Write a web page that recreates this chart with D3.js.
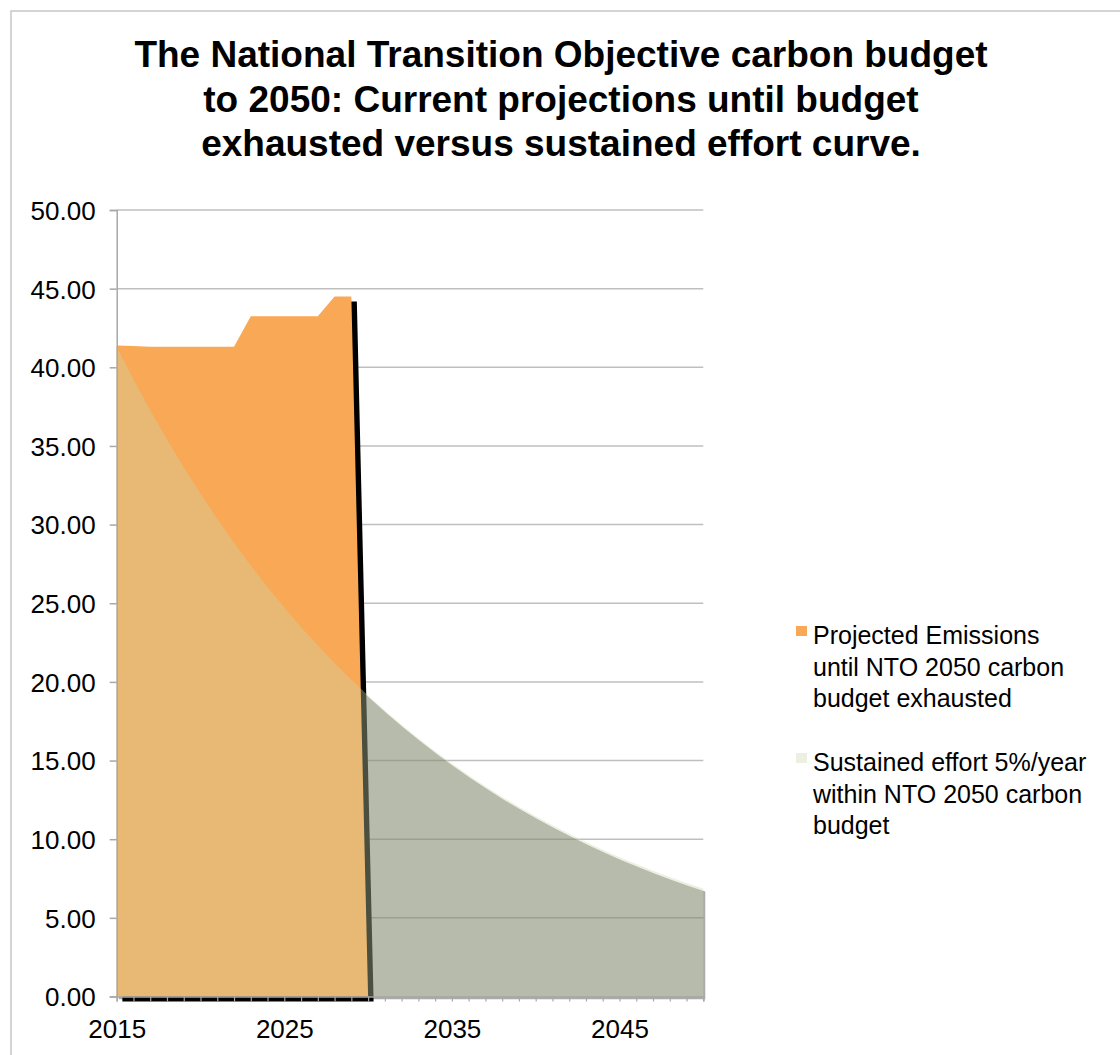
<!DOCTYPE html>
<html>
<head>
<meta charset="utf-8">
<script src="https://cdn.jsdelivr.net/npm/d3@7"></script>
<style>
  body { margin: 0; background: #fff; }
  svg text { font-family: "Liberation Sans", Arial, Helvetica, sans-serif; fill: #000; }
</style>
</head>
<body>
<div id="chart"></div>
<script>
(function(){
  // Categories: one point per year, 2015 to 2050.
  const years = [2015, 2016, 2017, 2018, 2019, 2020, 2021, 2022, 2023, 2024, 2025, 2026,
    2027, 2028, 2029, 2030, 2031, 2032, 2033, 2034, 2035, 2036, 2037, 2038,
    2039, 2040, 2041, 2042, 2043, 2044, 2045, 2046, 2047, 2048, 2049, 2050];

  // Projected emissions until the budget runs out (blank afterwards).
  const projected = [41.38, 41.36, 41.3, 41.3, 41.3, 41.3, 41.3, 41.3, 43.25, 43.25, 43.25,
    43.25, 43.25, 44.5, 44.5, 0];

  // Sustained effort curve.
  const sustained = [41.3, 39.24, 37.27, 35.41, 33.64, 31.96, 30.36, 28.84, 27.4, 26.03,
    24.73, 23.49, 22.32, 21.2, 20.14, 19.13, 18.18, 17.27, 16.41, 15.59, 14.81, 14.07,
    13.36, 12.69, 12.06, 11.46, 10.88, 10.34, 9.82, 9.33, 8.86, 8.42, 8.0, 7.6, 7.22, 6.86];

  const yTicks = [0, 5, 10, 15, 20, 25, 30, 35, 40, 45, 50];
  const xLabels = [2015, 2025, 2035, 2045];

  const titleLines = [
    'The National Transition Objective carbon budget',
    'to 2050: Current projections until budget',
    'exhausted versus sustained effort curve.'
  ];
  const legendItems = [
    {key: 'projected', lines: ['Projected Emissions', 'until NTO 2050 carbon', 'budget exhausted']},
    {key: 'sustained', lines: ['Sustained effort 5%/year', 'within NTO 2050 carbon', 'budget']}
  ];

  const width = 1120, height = 1055;
  const plot = {left: 116.7, top: 210, right: 703.3, bottom: 996.5};

  const orange = '#f9a856';
  const greenFill = 'rgb(200,213,170)';
  const greenOpacity = 0.37;

  const svg = d3.select('#chart').append('svg')
    .attr('width', width).attr('height', height);

  // Outer chart frame (runs off the right and bottom of the window).
  svg.append('rect')
    .attr('x', 11).attr('y', 11)
    .attr('width', width + 20).attr('height', height + 20)
    .attr('fill', 'none').attr('stroke', '#c6c6c6').attr('stroke-width', 1.5);

  // Title, three centred lines.
  svg.append('g').selectAll('text')
    .data(titleLines)
    .join('text')
    .attr('x', 561)
    .attr('y', (d, i) => 67 + i * 44.5)
    .attr('text-anchor', 'middle')
    .style('font-size', '37px')
    .style('font-weight', 'bold')
    .text(d => d);

  const x = d3.scaleLinear().domain([2015, 2050]).range([plot.left, plot.right]);
  const y = d3.scaleLinear().domain([0, 50]).range([plot.bottom, plot.top]);

  // Horizontal gridlines.
  svg.append('g').selectAll('line')
    .data(yTicks.filter(v => v > 0))
    .join('line')
    .attr('x1', plot.left).attr('x2', plot.right)
    .attr('y1', d => y(d)).attr('y2', d => y(d))
    .attr('stroke', '#bfbfbf').attr('stroke-width', 1.5);

  const defs = svg.append('defs');
  defs.append('clipPath').attr('id', 'clip-tight')
    .append('rect')
    .attr('x', plot.left).attr('y', plot.top - 10)
    .attr('width', plot.right - plot.left + 3).attr('height', plot.bottom - plot.top + 10);
  defs.append('clipPath').attr('id', 'clip-loose')
    .append('rect')
    .attr('x', plot.left).attr('y', plot.top - 10)
    .attr('width', plot.right - plot.left + 3).attr('height', plot.bottom - plot.top + 12);

  const projRows = years.map((yr, i) => ({year: yr, v: i < projected.length ? projected[i] : null}));
  const sustRows = years.map((yr, i) => ({year: yr, v: sustained[i]}));

  const area = d3.area()
    .defined(d => d.v != null)
    .x(d => x(d.year))
    .y0(y(0))
    .y1(d => y(d.v));

  // Drop shadows, as the spreadsheet drew them.
  svg.append('path')
    .attr('clip-path', 'url(#clip-tight)')
    .attr('d', area(sustRows))
    .attr('transform', 'translate(2,3)')
    .attr('fill', '#000').attr('fill-opacity', 0.33);

  svg.append('path')
    .attr('clip-path', 'url(#clip-loose)')
    .attr('d', area(projRows))
    .attr('transform', 'translate(5.5,5)')
    .attr('fill', '#000');

  // Projected emissions, opaque orange.
  svg.append('path')
    .attr('d', area(projRows))
    .attr('fill', orange);

  // Sustained effort, translucent pale green drawn in front.
  svg.append('path')
    .attr('d', area(sustRows))
    .attr('fill', greenFill).attr('fill-opacity', greenOpacity);

  // Y axis.
  const yAxis = svg.append('g')
    .attr('transform', `translate(${plot.left},0)`)
    .call(d3.axisLeft(y).tickValues(yTicks).tickFormat(d3.format('.2f')).tickSize(7).tickPadding(14));
  yAxis.select('.domain').attr('stroke', '#a8a8a8').attr('stroke-width', 1.5);
  yAxis.selectAll('.tick line').attr('stroke', '#a8a8a8').attr('stroke-width', 1.5);
  yAxis.selectAll('.tick text').style('font-size', '26px').attr('dy', '0.36em');

  // X axis: a tick for every year, a label every ten.
  const xAxis = svg.append('g')
    .attr('transform', `translate(0,${plot.bottom})`)
    .call(d3.axisBottom(x).tickValues(years).tickSize(5).tickPadding(18)
      .tickFormat(d => xLabels.includes(d) ? String(d) : ''));
  xAxis.select('.domain').attr('stroke', '#a8a8a8').attr('stroke-width', 1.5);
  xAxis.selectAll('.tick line').attr('stroke', '#a8a8a8').attr('stroke-width', 1.2);
  xAxis.selectAll('.tick text').style('font-size', '26px');

  // Legend.
  const legend = svg.append('g').attr('transform', 'translate(796,0)');
  legendItems.forEach((item, i) => {
    const top = 626 + i * 127;
    legend.append('rect')
      .attr('x', 0).attr('y', top)
      .attr('width', 11).attr('height', 10)
      .attr('fill', item.key === 'projected' ? orange : greenFill)
      .attr('fill-opacity', item.key === 'projected' ? 1 : greenOpacity);
    legend.append('g').selectAll('text')
      .data(item.lines)
      .join('text')
      .attr('x', 17)
      .attr('y', (d, j) => top + 18 + j * 31.5)
      .style('font-size', '25px')
      .text(d => d);
  });
})();
</script>
</body>
</html>
